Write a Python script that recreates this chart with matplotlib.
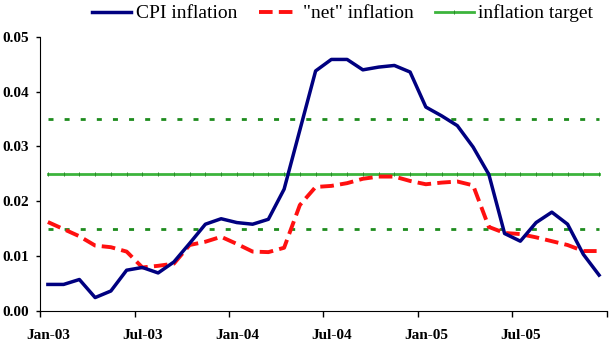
import numpy as np
import matplotlib.pyplot as plt
from matplotlib.ticker import FixedLocator, NullFormatter

# monthly data Jan-03 .. Dec-05
months = ['Jan-03', 'Jul-03', 'Jan-04', 'Jul-04', 'Jan-05', 'Jul-05']
cpi = [0.0048, 0.0048, 0.0057, 0.0024, 0.0036, 0.0074, 0.0079, 0.0069, 0.0089, 0.0123,
       0.0158, 0.0168, 0.0161, 0.0158, 0.0167, 0.0222, 0.0330, 0.0438, 0.0459, 0.0459,
       0.0440, 0.0445, 0.0448, 0.0436, 0.0372, 0.0356, 0.0338, 0.0299, 0.0249, 0.0141,
       0.0127, 0.0161, 0.0180, 0.0158, 0.0103, 0.0065]
net = [0.0162, 0.0149, 0.0136, 0.0119, 0.0116, 0.0108, 0.0079, 0.0082, 0.0086, 0.0120,
       0.0126, 0.0135, 0.0122, 0.0108, 0.0107, 0.0115, 0.0193, 0.0226, 0.0228, 0.0233,
       0.0241, 0.0245, 0.0245, 0.0237, 0.0231, 0.0234, 0.0236, 0.0229, 0.0153, 0.0142,
       0.0140, 0.0134, 0.0127, 0.0120, 0.0109, 0.0109]
target = 0.025
band_low, band_high = 0.015, 0.035

plt.rcParams['font.family'] = ['Liberation Serif', 'DejaVu Serif']

x = np.arange(len(cpi))
fig = plt.figure(figsize=(6.1, 3.54), dpi=100)
ax = fig.add_axes([0.0656, 0.1223, 0.9294, 0.7732])

ax.plot(x, [band_high] * len(x), color='#1e8c1e', lw=2, dashes=(1.8, 4))
ax.plot(x, [band_low] * len(x), color='#1e8c1e', lw=2, dashes=(1.8, 4))
ax.plot(x, [target] * len(x), color='#3cb43c', lw=2, marker='|', ms=3,
        mec='#2a8a2a', mew=0.7, label='inflation target')
ax.plot(x, net, color='#ff1010', lw=2.8, dashes=(3.5, 1.6), label='"net" inflation')
ax.plot(x, cpi, color='#000080', lw=2.5, label='CPI inflation')

ax.set_xlim(-0.5, len(x) - 0.5)
ax.set_ylim(0, 0.05)
ax.set_yticks([0, 0.01, 0.02, 0.03, 0.04, 0.05])
ax.set_yticklabels(['%.2f' % v for v in [0, 0.01, 0.02, 0.03, 0.04, 0.05]])

ax.xaxis.set_major_locator(FixedLocator(np.arange(-0.5, len(x), 6)))
ax.xaxis.set_major_formatter(NullFormatter())
ax.set_xticks(np.arange(0, len(x), 6), minor=True)
ax.set_xticklabels(months, minor=True)
ax.tick_params(axis='x', which='major', length=4.5, width=1, direction='out')
ax.tick_params(axis='x', which='minor', length=0, pad=13.5)
ax.tick_params(axis='y', length=3, width=1, pad=5)
for lab in ax.get_xticklabels(minor=True) + ax.get_yticklabels():
    lab.set_fontweight('bold')
    lab.set_fontsize(11)

for s in ['top', 'right']:
    ax.spines[s].set_visible(False)

h, l = ax.get_legend_handles_labels()
order = [2, 1, 0]
fig.legend([h[i] for i in order], [l[i] for i in order], loc='center',
           bbox_to_anchor=(0.562, 0.962), ncol=3, frameon=False, fontsize=14,
           handlelength=2.0, handletextpad=0.25, columnspacing=1.1, borderaxespad=0,
           borderpad=0)

fig.savefig('out.png')
